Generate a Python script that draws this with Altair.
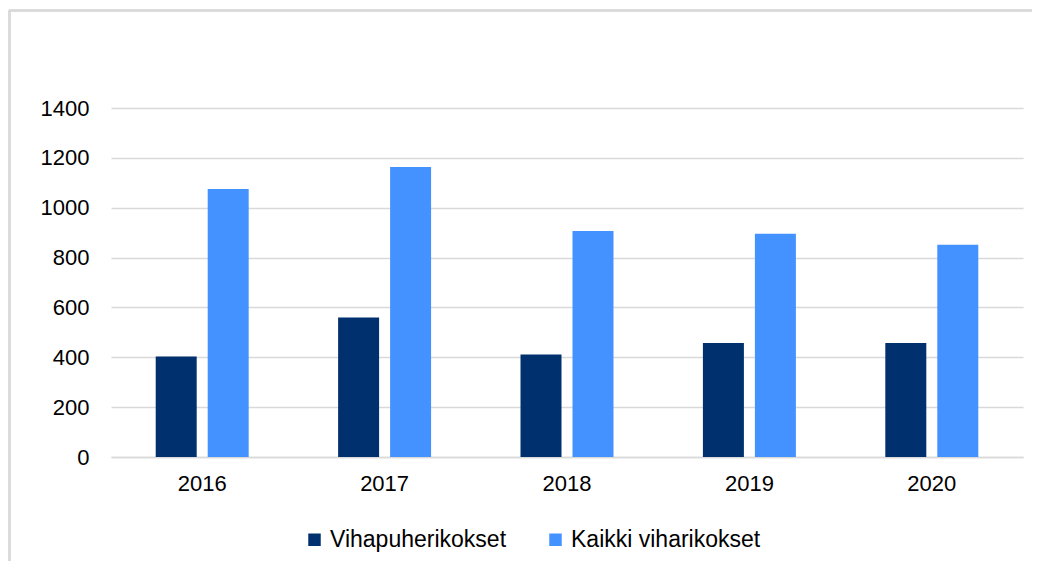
import altair as alt
import pandas as pd

years = ["2016", "2017", "2018", "2019", "2020"]
vihapuhe = [403, 560, 411, 457, 457]
kaikki = [1075, 1163, 907, 896, 851]
series = ["Vihapuherikokset", "Kaikki viharikokset"]
colors = ["#00306E", "#4492FF"]
y_ticks = [0, 200, 400, 600, 800, 1000, 1200, 1400]

rows = []
for i, y in enumerate(years):
    rows.append({"vuosi": y, "sarja": series[0], "arvo": vihapuhe[i]})
    rows.append({"vuosi": y, "sarja": series[1], "arvo": kaikki[i]})
df = pd.DataFrame(rows)

FONT = "Liberation Sans"
GRID = "#d9d9d9"

bars = alt.Chart(df).mark_bar().encode(
    x=alt.X("vuosi:N", sort=years,
            scale=alt.Scale(paddingInner=0, paddingOuter=0),
            axis=alt.Axis(title=None, labelAngle=0, ticks=False, domain=True,
                          domainColor=GRID, domainWidth=1.5,
                          labelFontSize=22, labelFont=FONT, labelColor="#000000",
                          labelPadding=16)),
    xOffset=alt.XOffset("sarja:N", sort=series,
                        scale=alt.Scale(paddingInner=0.2115, paddingOuter=0.86)),
    y=alt.Y("arvo:Q",
            scale=alt.Scale(domain=[0, 1400], nice=False),
            axis=alt.Axis(title=None, values=y_ticks, format="d", ticks=False, domain=False,
                          grid=True, gridColor=GRID, gridWidth=1.5,
                          labelFontSize=22, labelFont=FONT, labelColor="#000000",
                          labelPadding=22)),
    color=alt.Color("sarja:N", sort=series,
                    scale=alt.Scale(domain=series, range=colors),
                    legend=alt.Legend(title=None, orient="none", direction="horizontal",
                                      legendX=192, legendY=420,
                                      symbolType="square", symbolSize=156,
                                      symbolStrokeWidth=0, labelFontSize=23,
                                      labelFont=FONT, labelColor="#000000",
                                      labelLimit=0,
                                      labelOffset=4, columnPadding=37, padding=0)),
)

frame_left = alt.Chart(df).mark_rule(color=GRID, strokeWidth=1.5).encode(
    x=alt.value(-101.5), y=alt.value(-97.5), y2=alt.value(470)
)
frame_top = alt.Chart(df).mark_rule(color=GRID, strokeWidth=1.5).encode(
    x=alt.value(-101.5), x2=alt.value(1000), y=alt.value(-97.5)
)

chart = alt.layer(frame_left, frame_top, bars).properties(
    width=912,
    height=349,
    autosize=alt.AutoSizeParams(type="none"),
    padding={"left": 103, "top": 100, "right": 9, "bottom": 104},
    background="white",
).configure_view(stroke=None, strokeWidth=0)

chart.save("out.html", embed_options={"renderer": "svg", "actions": False})
